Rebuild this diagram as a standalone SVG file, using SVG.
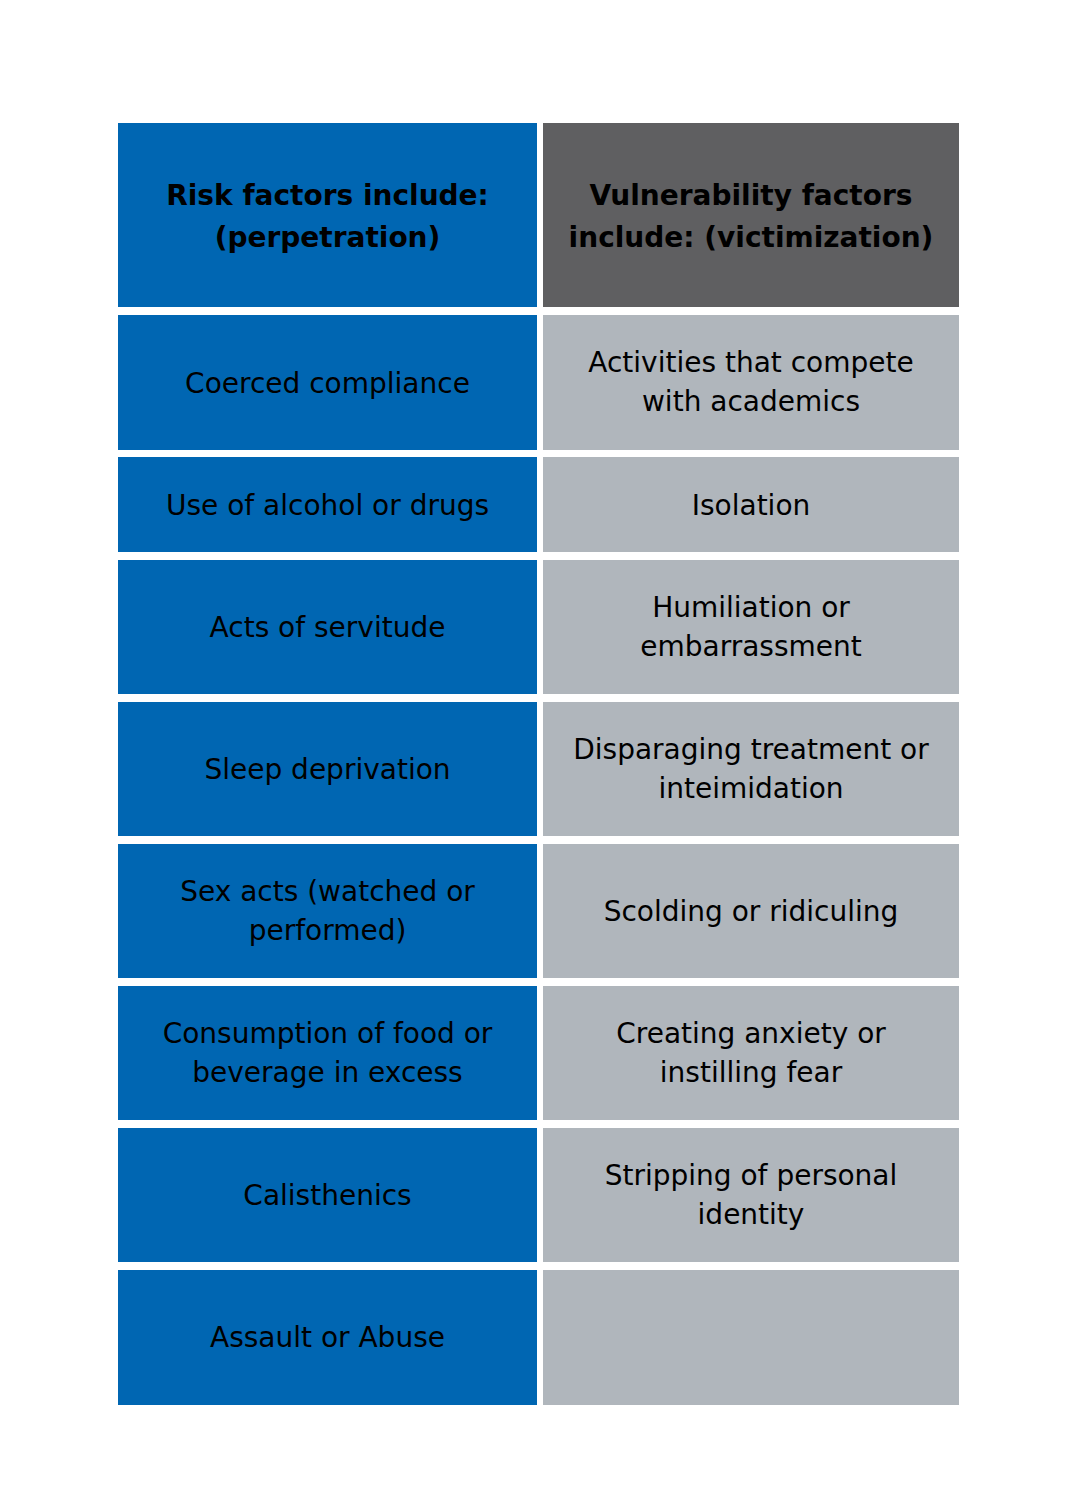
<svg xmlns="http://www.w3.org/2000/svg" width="1080" height="1500" viewBox="0 0 1080 1500">
<style>
.bl{fill:#0066B2}
.dg{fill:#5F5F61}
.lg{fill:#B0B6BC}
text{font-family:"DejaVu Sans","Noto Sans",sans-serif;fill:#000;text-anchor:middle}
.h{font-size:28px;font-weight:bold}
.b{font-size:28px}
</style>
<rect width="1080" height="1500" fill="#fff"/>
<g id="header-left"><rect class="bl" x="118" y="123" width="419" height="184"/><text class="h" x="327.5" y="205">Risk factors include:</text><text class="h" x="327.5" y="247">(perpetration)</text></g>
<g id="header-right"><rect class="dg" x="543" y="123" width="416" height="184"/><text class="h" x="751" y="205">Vulnerability factors</text><text class="h" x="751" y="247">include: (victimization)</text></g>

<g id="r1-left"><rect class="bl" x="118" y="315" width="419" height="135"/><text class="b" x="327.5" y="393">Coerced compliance</text></g>
<g id="r1-right"><rect class="lg" x="543" y="315" width="416" height="135"/><text class="b" x="751" y="372">Activities that compete</text><text class="b" x="751" y="411">with academics</text></g>

<g id="r2-left"><rect class="bl" x="118" y="457" width="419" height="95"/><text class="b" x="327.5" y="515">Use of alcohol or drugs</text></g>
<g id="r2-right"><rect class="lg" x="543" y="457" width="416" height="95"/><text class="b" x="751" y="515">Isolation</text></g>

<g id="r3-left"><rect class="bl" x="118" y="560" width="419" height="134"/><text class="b" x="327.5" y="637">Acts of servitude</text></g>
<g id="r3-right"><rect class="lg" x="543" y="560" width="416" height="134"/><text class="b" x="751" y="617">Humiliation or</text><text class="b" x="751" y="656">embarrassment</text></g>

<g id="r4-left"><rect class="bl" x="118" y="702" width="419" height="134"/><text class="b" x="327.5" y="779">Sleep deprivation</text></g>
<g id="r4-right"><rect class="lg" x="543" y="702" width="416" height="134"/><text class="b" x="751" y="759">Disparaging treatment or</text><text class="b" x="751" y="798">inteimidation</text></g>

<g id="r5-left"><rect class="bl" x="118" y="844" width="419" height="134"/><text class="b" x="327.5" y="901">Sex acts (watched or</text><text class="b" x="327.5" y="940">performed)</text></g>
<g id="r5-right"><rect class="lg" x="543" y="844" width="416" height="134"/><text class="b" x="751" y="921">Scolding or ridiculing</text></g>

<g id="r6-left"><rect class="bl" x="118" y="986" width="419" height="134"/><text class="b" x="327.5" y="1043">Consumption of food or</text><text class="b" x="327.5" y="1082">beverage in excess</text></g>
<g id="r6-right"><rect class="lg" x="543" y="986" width="416" height="134"/><text class="b" x="751" y="1043">Creating anxiety or</text><text class="b" x="751" y="1082">instilling fear</text></g>

<g id="r7-left"><rect class="bl" x="118" y="1128" width="419" height="134"/><text class="b" x="327.5" y="1205">Calisthenics</text></g>
<g id="r7-right"><rect class="lg" x="543" y="1128" width="416" height="134"/><text class="b" x="751" y="1185">Stripping of personal</text><text class="b" x="751" y="1224">identity</text></g>

<g id="r8-left"><rect class="bl" x="118" y="1270" width="419" height="135"/><text class="b" x="327.5" y="1347">Assault or Abuse</text></g>
<g id="r8-right"><rect class="lg" x="543" y="1270" width="416" height="135"/></g>
<g id="connectors"/>
</svg>
